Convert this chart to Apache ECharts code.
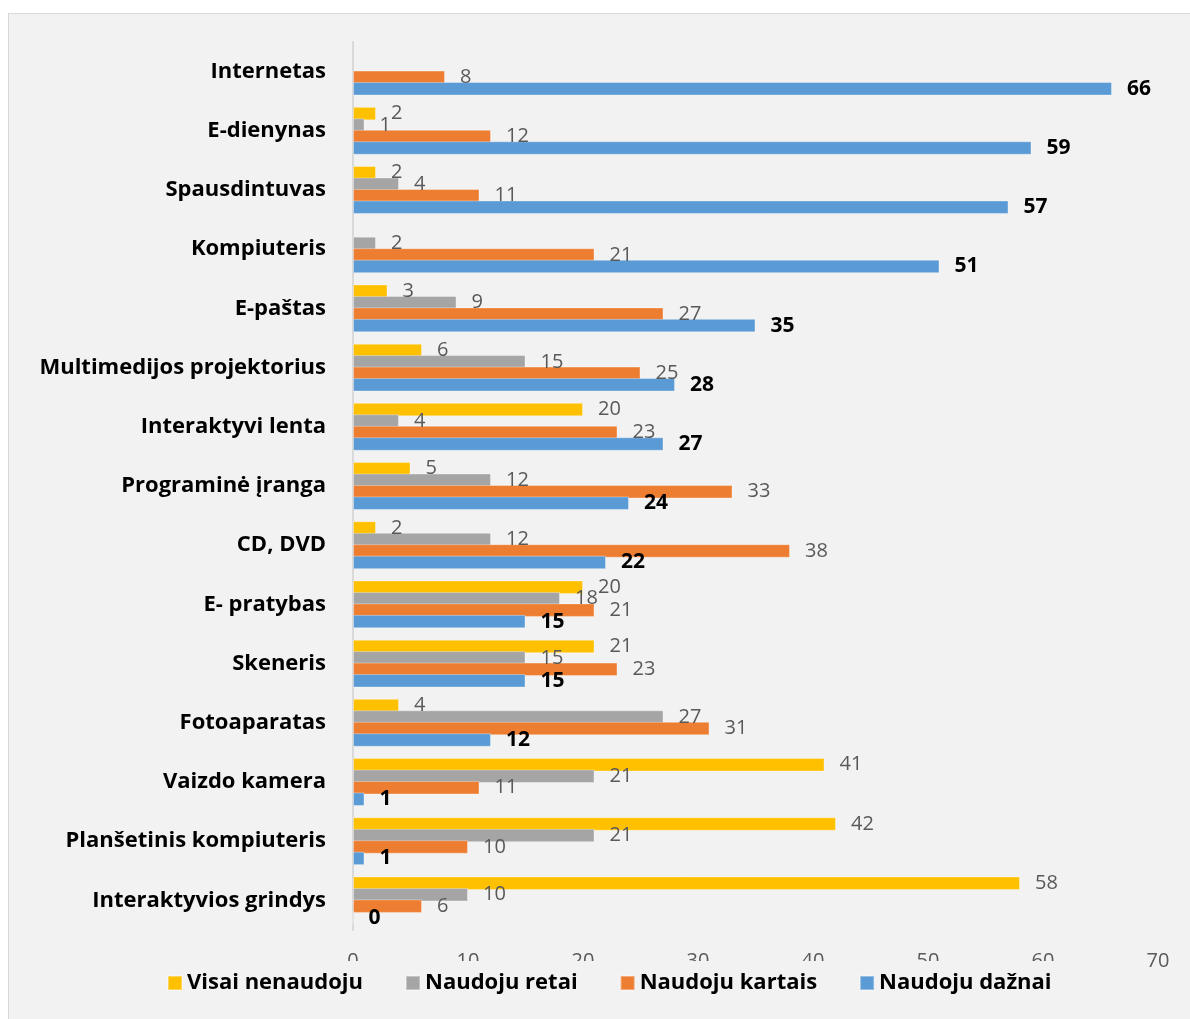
<!DOCTYPE html>
<html>
<head>
<meta charset="utf-8">
<script src="https://cdn.jsdelivr.net/npm/echarts@6/dist/echarts.min.js"></script>
<style>
  html, body { margin: 0; padding: 0; background: #ffffff; width: 1190px; height: 1019px; overflow: hidden; }
  #panel { position: absolute; left: 8px; top: 13px; width: 1200px; height: 1020px;
           background: #f2f2f2; border: 1px solid #d9d9d9; box-sizing: border-box; }
  #chart { position: absolute; left: 0; top: 0; width: 1190px; height: 1019px; }
</style>
</head>
<body>
<div id="panel"></div>
<div id="chart"></div>
<script>
// Categories listed top to bottom
const categories = [
  'Internetas', 'E-dienynas', 'Spausdintuvas', 'Kompiuteris', 'E-paštas',
  'Multimedijos projektorius', 'Interaktyvi lenta', 'Programinė įranga', 'CD, DVD',
  'E- pratybas', 'Skeneris', 'Fotoaparatas', 'Vaizdo kamera',
  'Planšetinis kompiuteris', 'Interaktyvios grindys'
];
const seriesNames = ['Visai nenaudoju', 'Naudoju retai', 'Naudoju kartais', 'Naudoju dažnai'];
// null = no answer in that group (no bar, no label)
const visaiNenaudoju = [null, 2, 2, null, 3, 6, 20, 5, 2, 20, 21, 4, 41, 42, 58];
const naudojuRetai   = [null, 1, 4, 2, 9, 15, 4, 12, 12, 18, 15, 27, 21, 21, 10];
const naudojuKartais = [8, 12, 11, 21, 27, 25, 23, 33, 38, 21, 23, 31, 11, 10, 6];
const naudojuDaznai  = [66, 59, 57, 51, 35, 28, 27, 24, 22, 15, 15, 12, 1, 1, 0];
const xTicks = { min: 0, max: 70, interval: 10 };

const colors = ['#FFC000', '#A5A5A5', '#ED7D31', '#5B9BD5'];
const FONT = '"Open Sans"';

const plainLabel = {
  show: true, position: 'right', distance: 15,
  color: '#595959', fontFamily: FONT, fontSize: 20
};
const boldLabel = {
  show: true, position: 'right', distance: 15,
  color: '#000000', fontFamily: FONT, fontSize: 21, fontWeight: 'bold'
};

// Bars within a group overlap slightly; later series paint over earlier ones
function makeSeries(name, data, color, label) {
  return {
    name: name,
    type: 'bar',
    data: data,
    barWidth: 13.5,
    barGap: '-15%',
    itemStyle: { color: color, borderColor: 'rgba(255,255,255,0.35)', borderWidth: 1 },
    label: label
  };
}

const chart = echarts.init(document.getElementById('chart'), null, { renderer: 'canvas' });
chart.setOption({
  backgroundColor: 'transparent',
  animation: false,
  color: colors,
  grid: { left: 353, right: 32, top: 42, height: 888, containLabel: false },
  xAxis: {
    type: 'value',
    min: xTicks.min, max: xTicks.max, interval: xTicks.interval,
    axisLine: { show: false },
    axisTick: { show: false },
    splitLine: { show: false },
    axisLabel: { color: '#595959', fontFamily: FONT, fontSize: 20, lineHeight: 22, margin: 20 }
  },
  yAxis: {
    type: 'category',
    data: categories,
    inverse: true,
    axisLine: { show: true, lineStyle: { color: '#d9d9d9', width: 2 } },
    axisTick: { show: false },
    axisLabel: { color: '#000000', fontFamily: FONT, fontSize: 22, fontWeight: 'bold', margin: 27 }
  },
  legend: {
    data: seriesNames,
    left: 155,
    top: 961,
    padding: [11, 12, 12, 12],
    backgroundColor: '#f2f2f2',
    itemWidth: 14,
    itemHeight: 14,
    itemGap: 42,
    icon: 'rect',
    textStyle: { color: '#000000', fontFamily: FONT, fontSize: 22, fontWeight: 'bold' }
  },
  series: [
    makeSeries(seriesNames[0], visaiNenaudoju, colors[0], plainLabel),
    makeSeries(seriesNames[1], naudojuRetai, colors[1], plainLabel),
    makeSeries(seriesNames[2], naudojuKartais, colors[2], plainLabel),
    makeSeries(seriesNames[3], naudojuDaznai, colors[3], boldLabel)
  ]
});
</script>
</body>
</html>
